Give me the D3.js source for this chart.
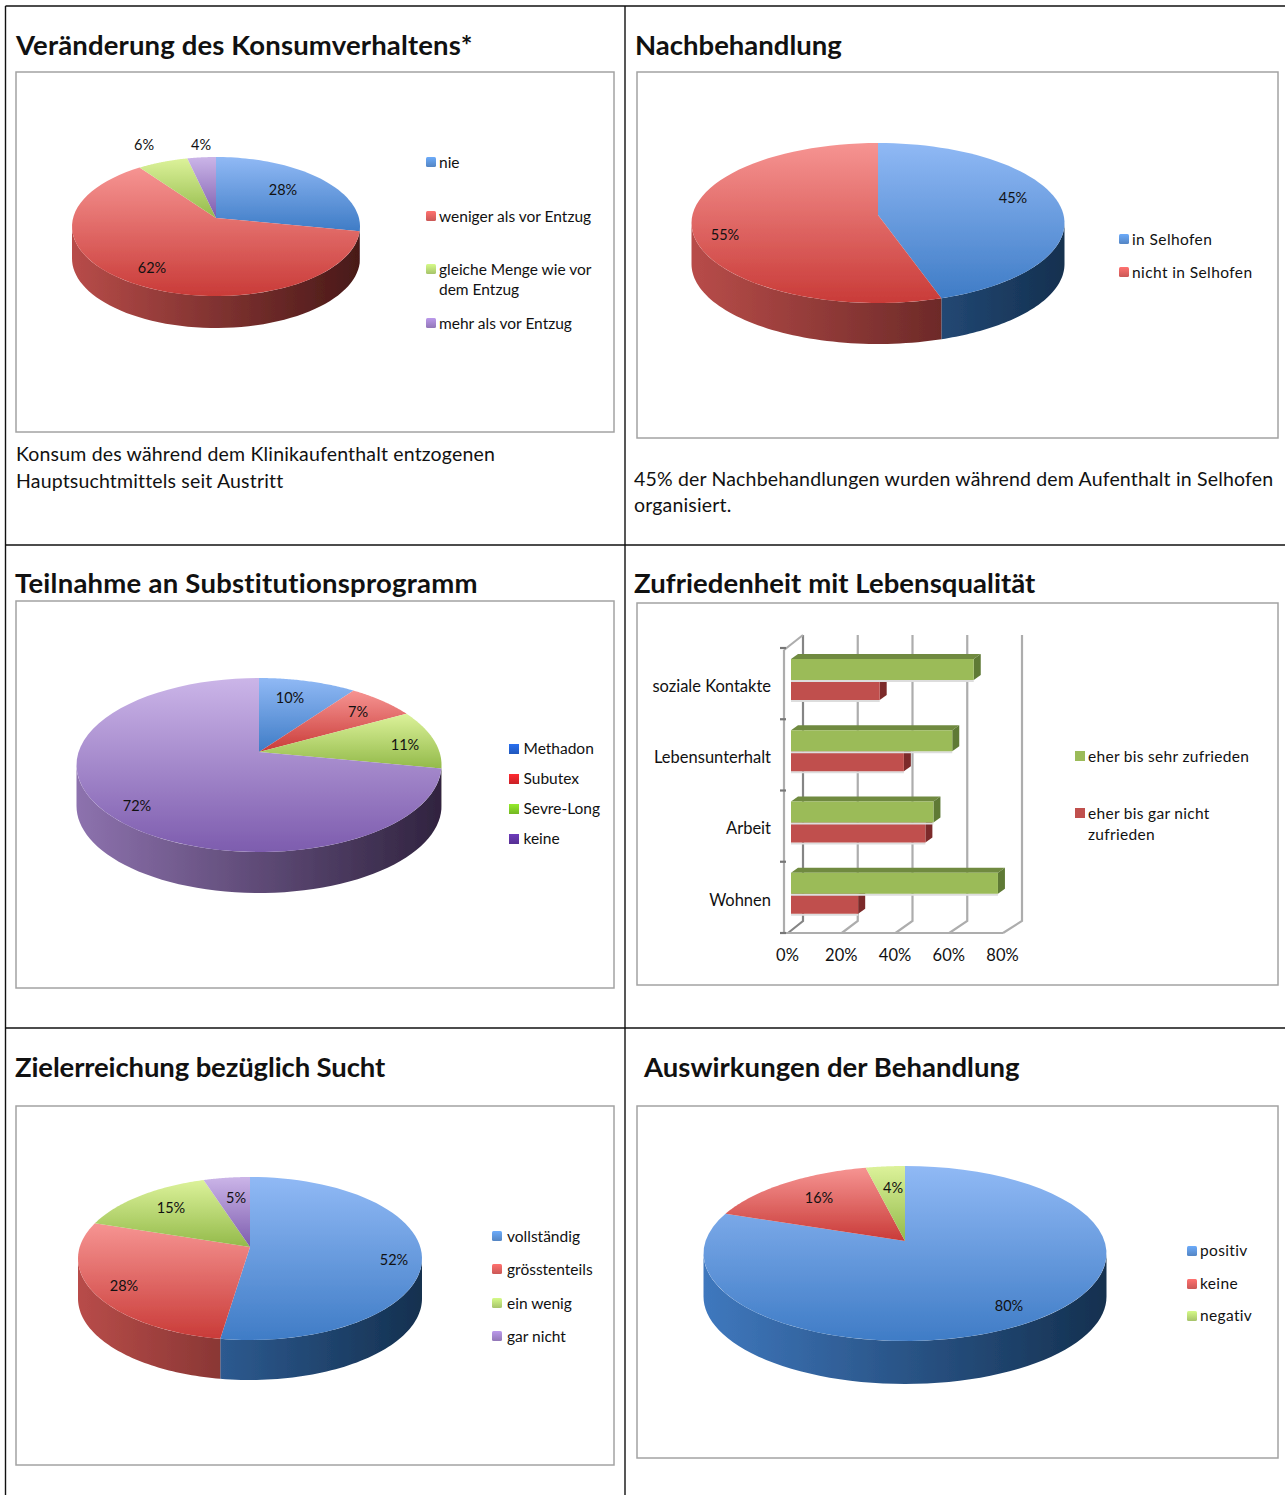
<!DOCTYPE html>
<html>
<head>
  <meta charset="utf-8">
  <title>Katamnese</title>
  <script src="https://cdn.jsdelivr.net/npm/d3@7"></script>
  <style>
    html, body { margin: 0; padding: 0; background: #fff; }
    svg { display: block; }
    text { font-family: Lato, "Open Sans", sans-serif; fill: #111; }
    .title { font-size: 27.5px; font-weight: 700; }
    .body-text { font-size: 19.5px; letter-spacing: 0.17px; }
    .legend { font-size: 15.5px; }
    .pct { font-size: 14.5px; }
    .axis text { font-size: 16.5px; fill: #111; font-family: Lato, sans-serif; }
  </style>
</head>
<body>
<script>
// values
const konsumLabels = ["nie", "weniger als vor Entzug", ["gleiche Menge wie vor", "dem Entzug"], "mehr als vor Entzug"];
const konsumValues = [28, 62, 6.4, 3.6];
const nachLabels = ["in Selhofen", "nicht in Selhofen"];
const nachValues = [45, 55];
const substLabels = ["Methadon", "Subutex", "Sevre-Long", "keine"];
const substValues = [10, 7, 11, 72];
const zielLabels = ["vollständig", "grösstenteils", "ein wenig", "gar nicht"];
const zielValues = [52.4, 27.6, 15, 5];
const wirkungLabels = ["positiv", "keine", "negativ"];
const wirkungValues = [80.4, 16, 3.6];

const lebenCategories = ["soziale Kontakte", "Lebensunterhalt", "Arbeit", "Wohnen"];
const lebenZufrieden = [68, 60, 53, 77];
const lebenUnzufrieden = [33, 42, 50, 25];
const lebenTicks = [0, 20, 40, 60, 80];
const lebenLegend = ["eher bis sehr zufrieden", ["eher bis gar nicht", "zufrieden"]];

// colours
const soft = [
  {top: "#90b9f5", bottom: "#3f7cc6", sideL: "#3f78be", sideR: "#14304f", sw: "#5f97dd"},
  {top: "#f69492", bottom: "#c93b38", sideL: "#b84c49", sideR: "#481918", sw: "#e56462"},
  {top: "#dcf29a", bottom: "#93ba4a", sideL: "#8aa94a", sideR: "#43561f", sw: "#bcdd78"},
  {top: "#cbb5e8", bottom: "#7d5cae", sideL: "#8d72ae", sideR: "#30233f", sw: "#a587cf"}
];
const strongSwatches = ["#2463d4", "#e3252b", "#83cf26", "#6135a5"];

const width = 1285, height = 1495;
const svg = d3.select("body").append("svg").attr("width", width).attr("height", height);
const defs = svg.append("defs");

// soften the pies a bit, the original is a scaled bitmap
defs.append("filter").attr("id", "soft").append("feGaussianBlur").attr("stdDeviation", 0.6);

// table grid
const grid = svg.append("g").attr("stroke", "#111").attr("stroke-width", 1.4);
[[5.5, 6, 5.5, 1495], [625, 6, 625, 1495], [5.5, 6, 1285, 6], [5.5, 545, 1285, 545], [5.5, 1028, 1285, 1028]]
  .forEach(l => grid.append("line").attr("x1", l[0]).attr("y1", l[1]).attr("x2", l[2]).attr("y2", l[3]));

// panel boxes
[[16, 72, 598, 360], [637, 72, 641, 366], [16, 601, 598, 387], [637, 603, 641, 382], [16, 1106, 598, 359], [637, 1106, 641, 352]]
  .forEach(b => svg.append("rect").attr("x", b[0]).attr("y", b[1]).attr("width", b[2]).attr("height", b[3])
    .attr("fill", "#fff").attr("stroke", "#a3a3a3").attr("stroke-width", 1.5));

// titles, last number is the letter spacing that makes the width fit
[["Veränderung des Konsumverhaltens*", 16, 55, 0.15], ["Nachbehandlung", 635, 55, 0],
 ["Teilnahme an Substitutionsprogramm", 15, 593, 0.24], ["Zufriedenheit mit Lebensqualität", 634, 593, 0.06],
 ["Zielerreichung bezüglich Sucht", 15, 1077, -0.13], ["Auswirkungen der Behandlung", 644, 1077, 0.03]]
  .forEach(t => svg.append("text").attr("class", "title").attr("x", t[1]).attr("y", t[2])
    .style("letter-spacing", t[3] + "px").text(t[0]));

// captions
[["Konsum des während dem Klinikaufenthalt entzogenen", 16, 461], ["Hauptsuchtmittels seit Austritt", 16, 488],
 ["45% der Nachbehandlungen wurden während dem Aufenthalt in Selhofen", 634, 486], ["organisiert.", 634, 512]]
  .forEach(t => svg.append("text").attr("class", "body-text").attr("x", t[1]).attr("y", t[2]).text(t[0]));

let swatchCount = 0;
function legend(labels, opt) {
  labels.forEach((label, i) => {
    const y = opt.ys[i];
    let fill = opt.colors[i];
    if (opt.shaded) {
      const gid = "swatch-" + (swatchCount++);
      const lg = defs.append("linearGradient").attr("id", gid).attr("x1", 0).attr("x2", 0).attr("y1", 0).attr("y2", 1);
      lg.append("stop").attr("offset", 0).attr("stop-color", d3.color(fill).brighter(0.35));
      lg.append("stop").attr("offset", 1).attr("stop-color", d3.color(fill).darker(0.35));
      fill = "url(#" + gid + ")";
    }
    svg.append("rect").attr("x", opt.x).attr("y", y - 5).attr("width", 10).attr("height", 10)
      .attr("rx", opt.radius === undefined ? 1.5 : opt.radius)
      .attr("fill", fill);
    const lines = Array.isArray(label) ? label : [label];
    lines.forEach((line, j) => {
      svg.append("text").attr("class", "legend").style("letter-spacing", (opt.spacing || 0) + "px")
        .attr("x", opt.x + opt.gap).attr("y", y + opt.dy + j * opt.lineGap).text(line);
    });
  });
}

// 3D pie: the flat circle goes through a small perspective, far side is squeezed
function pie3d(id, values, opt) {
  const k = (opt.down - opt.up) / (opt.down + opt.up);
  const ry = opt.up * (1 + k);
  const a = opt.rx * Math.sqrt(1 - k * k);
  const project = t => {
    const u = Math.sin(t), v = Math.cos(t), w = 1 + k * v;
    return [opt.cx + a * u / w, opt.cy - ry * v / w];
  };
  const arcPoints = (s, e) => d3.range(0, 61).map(i => project(s + (e - s) * i / 60));
  const line = d3.line();
  const arcs = d3.pie().sort(null)(values);
  const g = svg.append("g").attr("filter", "url(#soft)");

  // side wall, only the part turned towards us
  const frontStart = Math.acos(-k), frontEnd = 2 * Math.PI - frontStart;
  arcs.forEach((d, i) => {
    const s = Math.max(d.startAngle, frontStart), e = Math.min(d.endAngle, frontEnd);
    if (e <= s) return;
    const gid = id + "-side-" + i;
    const lg = defs.append("linearGradient").attr("id", gid).attr("gradientUnits", "userSpaceOnUse")
      .attr("x1", opt.cx - opt.rx).attr("x2", opt.cx + opt.rx).attr("y1", 0).attr("y2", 0);
    lg.append("stop").attr("offset", 0).attr("stop-color", soft[i].sideL);
    lg.append("stop").attr("offset", 1).attr("stop-color", soft[i].sideR);
    const upper = arcPoints(s, e);
    const lower = upper.map(p => [p[0], p[1] + opt.depth]).reverse();
    g.append("path").attr("d", line(upper.concat(lower)) + "Z").attr("fill", "url(#" + gid + ")");
  });

  // top face
  arcs.forEach((d, i) => {
    const gid = id + "-top-" + i;
    const lg = defs.append("linearGradient").attr("id", gid).attr("x1", 0).attr("x2", 0).attr("y1", 0).attr("y2", 1);
    lg.append("stop").attr("offset", 0).attr("stop-color", soft[i].top);
    lg.append("stop").attr("offset", 1).attr("stop-color", soft[i].bottom);
    const pts = [[opt.cx, opt.cy]].concat(arcPoints(d.startAngle, d.endAngle));
    g.append("path").attr("d", line(pts) + "Z").attr("fill", "url(#" + gid + ")");
  });

  values.forEach((v, i) => {
    svg.append("text").attr("class", "pct").attr("text-anchor", "middle")
      .attr("x", opt.labels[i][0]).attr("y", opt.labels[i][1] + 5).text(Math.round(v) + "%");
  });
}

const softSwatches = soft.map(c => c.sw);

pie3d("konsum", konsumValues, {cx: 216, cy: 218, rx: 144, up: 61, down: 78, depth: 32,
  labels: [[283, 190], [152, 268], [144, 145], [201, 145]]});
legend(konsumLabels, {x: 426, gap: 13, dy: 6, lineGap: 20, shaded: true, ys: [162, 216, 269, 323], colors: softSwatches});

pie3d("nach", nachValues, {cx: 878, cy: 215, rx: 186.5, up: 72, down: 88, depth: 41,
  labels: [[1013, 198], [725, 235]]});
legend(nachLabels, {x: 1119, gap: 13, dy: 6, lineGap: 20, spacing: 0.4, shaded: true, ys: [239, 272], colors: softSwatches});

pie3d("subst", substValues, {cx: 259, cy: 752, rx: 182.5, up: 74, down: 100, depth: 41,
  labels: [[290, 698], [358, 712], [405, 745], [137, 806]]});
legend(substLabels, {x: 509, gap: 14.5, dy: 5, lineGap: 20, radius: 0, shaded: true, ys: [749, 779, 809, 839], colors: strongSwatches});

pie3d("ziel", zielValues, {cx: 250, cy: 1247, rx: 172, up: 70, down: 93, depth: 40,
  labels: [[394, 1260], [124, 1286], [171, 1208], [236, 1198]]});
legend(zielLabels, {x: 492, gap: 15, dy: 6, lineGap: 20, shaded: true, ys: [1236, 1269, 1303, 1336], colors: softSwatches});

pie3d("wirkung", wirkungValues, {cx: 905, cy: 1241, rx: 201.5, up: 75, down: 100, depth: 43,
  labels: [[1009, 1306], [819, 1198], [893, 1188]]});
legend(wirkungLabels, {x: 1187, gap: 13, dy: 5, lineGap: 20, spacing: 0.35, shaded: true, ys: [1251, 1284, 1316], colors: softSwatches});

// 3D bar chart, front edge of the floor and back wall have their own x scale
const x = d3.scaleLinear().domain([0, 80]).range([788, 1003]);
const xBack = d3.scaleLinear().domain([0, 80]).range([803, 1022]);
const y = d3.scaleBand().domain(lebenCategories).range([648, 933]);
const floorBack = 921, wallTop = 635;
const wall = svg.append("g").attr("filter", "url(#soft)").attr("stroke", "#adadad").attr("stroke-width", 2.2).attr("fill", "none");
lebenTicks.forEach((t, i) => {
  wall.append("path").attr("d", d3.line()([[x(t), 933], [xBack(t), floorBack], [xBack(t), wallTop]]))
    .attr("stroke", i === 0 ? "#858585" : "#adadad");
});
wall.append("path").attr("d", d3.line()([[784, 650], [784, 933], [x(80), 933]]));
wall.append("path").attr("d", d3.line()([[784, 650], [xBack(0), wallTop]]));
y.domain().concat([null]).forEach(c => {
  const ty = c === null ? y.range()[1] : y(c);
  wall.append("line").attr("x1", 780).attr("x2", 786).attr("y1", ty).attr("y2", ty).attr("stroke", "#777");
});

const barStart = x(0) + 3, barDx = 7, barDy = -5;
function bars(values, offset, barH, front, side, topFace) {
  const g = svg.append("g").attr("filter", "url(#soft)");
  const barX = v => x(v) + 3;
  lebenCategories.forEach((c, i) => {
    const top = y(c) + offset, end = barX(values[i]);
    g.append("rect").attr("x", barStart).attr("y", top + barH).attr("width", end - barStart).attr("height", 2).attr("fill", "#ddd");
    g.append("path").attr("d", d3.line()([[barStart, top], [barStart + barDx, top + barDy], [end + barDx, top + barDy], [end, top]]) + "Z").attr("fill", topFace);
    g.append("path").attr("d", d3.line()([[end, top], [end + barDx, top + barDy], [end + barDx, top + barH + barDy], [end, top + barH]]) + "Z").attr("fill", side);
    g.append("rect").attr("x", barStart).attr("y", top).attr("width", end - barStart).attr("height", barH).attr("fill", front);
  });
}
bars(lebenUnzufrieden, 32, 20, "#c0504d", "#7c2b29", "#a04340");
bars(lebenZufrieden, 11, 21, "#9bbb59", "#5f7a34", "#6f8a40");

svg.append("g").attr("class", "axis").attr("transform", "translate(-1,941)")
  .call(d3.axisBottom(x).tickValues(lebenTicks).tickSize(0).tickPadding(8).tickFormat(d => d + "%"))
  .call(g => g.select(".domain").remove());
svg.append("g").attr("class", "axis").attr("transform", "translate(771,3)")
  .call(d3.axisLeft(y).tickSize(0).tickPadding(0))
  .call(g => g.select(".domain").remove());

legend(lebenLegend, {x: 1075, gap: 13, dy: 6, lineGap: 21, radius: 0, spacing: 0.3, ys: [756, 813], colors: ["#9bbb59", "#c0504d"]});
</script>
</body>
</html>
